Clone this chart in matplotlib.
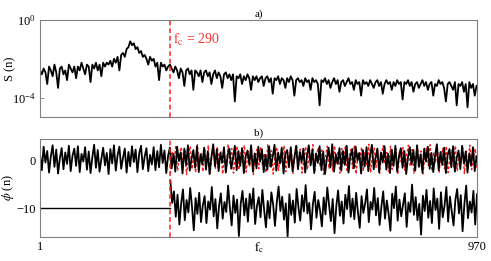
import numpy as np
import matplotlib
matplotlib.use("Agg")
import matplotlib.pyplot as plt
from matplotlib.ticker import FixedLocator, NullLocator, LogFormatterSciNotation

plt.rcParams['font.family'] = ['Liberation Serif', 'DejaVu Serif']
plt.rcParams['mathtext.fontset'] = 'stix'
plt.rcParams['axes.unicode_minus'] = True

# ---------------- data ----------------
fc = 290
n_max = 970

# panel a: log10 S(n) sampled at n = 1, 5, 9, ..., 969
logS_low = [-2.6,-2.8,-2.5,-2.7,-3.3,-2.4,-2.6,-2.9,-2.3,-2.7,-3.5,-2.5,-2.4,-2.8,-2.6,-3.1,-2.3,-2.5,-2.7,-2.4,
            -3.0,-2.4,-2.6,-2.2,-2.5,-2.8,-2.3,-2.4,-3.2,-2.3,-2.5,-2.2,-2.6,-2.3,-2.9,-2.2,-2.4,-2.2]
logS_peak = [-2.3,-2.1,-2.4,-2.0,-2.2,-1.9,-2.6,-1.8,-1.7,-1.9,-1.5,-1.4,
             -1.1,-1.3,-1.2,-1.5,-1.4,-1.7,-1.6,-1.9,-1.8,-2.0,-2.3,-1.9,-2.1,-2.0,-2.4,-2.2,-3.1,-2.2,-2.4,-2.3,-2.6,-2.4,-2.3]
logS_high = [-2.5,-2.7,-2.4,-2.6,-3.0,-2.5,-2.7,-3.4,-2.6,-2.5,
             -2.8,-2.6,-3.6,-2.6,-2.7,-2.9,-2.6,-3.2,-2.7,-2.6,
             -2.9,-2.7,-3.3,-2.8,-2.6,-3.0,-2.7,-2.9,-3.5,-2.8,
             -2.7,-3.0,-2.8,-3.1,-2.8,-4.2,-2.9,-3.0,-2.8,-3.3,
             -2.9,-3.1,-2.8,-3.0,-3.6,-2.9,-3.1,-2.9,-3.2,-3.0,
             -2.9,-3.4,-3.0,-2.9,-3.2,-3.0,-3.8,-3.0,-3.1,-2.9,
             -3.3,-3.0,-3.1,-3.5,-3.0,-3.2,-2.9,-3.1,-3.9,-3.1,
             -3.0,-3.2,-3.1,-3.4,-3.0,-3.2,-3.1,-3.6,-3.0,-3.2,
             -3.1,-3.3,-4.4,-3.1,-3.2,-3.0,-3.3,-3.1,-3.5,-3.2,
             -3.0,-3.3,-3.1,-3.7,-3.2,-3.1,-3.4,-3.2,-3.0,-3.3,
             -3.2,-3.6,-3.1,-3.3,-3.2,-3.9,-3.1,-3.3,-3.2,-3.4,
             -3.1,-3.3,-3.5,-3.2,-3.1,-3.4,-3.2,-3.8,-3.3,-3.1,
             -3.3,-3.2,-3.6,-3.2,-3.4,-3.1,-3.3,-3.2,-4.1,-3.2,
             -3.3,-3.1,-3.4,-3.2,-3.7,-3.3,-3.2,-3.5,-3.3,-3.1,
             -3.4,-3.2,-3.6,-3.3,-3.2,-3.9,-3.3,-3.4,-3.1,-3.3,
             -3.2,-3.5,-4.2,-3.3,-3.2,-3.4,-3.6,-3.2,-4.4,-3.3,
             -3.4,-3.2,-3.7,-3.3,-4.5,-3.2,-3.5,-3.3,-3.9,-3.4]

# panel b: original phase, n = 1, 5, ..., 969
phase_orig = [1.2,-2.1,2.8,-0.5,1.9,-2.6,0.8,3.1,-1.4,2.2,
              -2.8,0.4,2.5,-1.9,1.6,-0.8,3.0,-2.3,0.9,2.4,
              -1.2,2.9,-2.5,1.3,-0.3,2.7,-2.0,1.8,-2.7,0.6,
              3.2,-1.6,2.1,-2.4,0.2,2.6,-1.1,1.5,-2.9,2.3,
              -0.7,3.1,-2.2,1.0,2.8,-1.8,0.5,2.4,-2.6,1.7,
              -1.3,2.9,-0.4,2.2,-2.5,1.4,3.0,-1.9,0.7,2.5,
              -2.3,1.1,-0.9,2.7,-2.1,1.9,-1.5,3.2,-0.6,2.0,
              -2.7,0.9,2.6,-1.7,1.3,-2.4,2.8,-0.2,1.6,-2.8,
              2.4,-1.0,3.1,-2.2,0.3,2.1,-1.6,2.9,-2.5,1.2,
              -0.8,2.6,-2.0,1.8,-2.9,0.6,3.3,-1.3,2.2,-2.3,
              1.5,-0.5,2.7,-2.6,1.0,2.4,-1.8,0.4,3.0,-2.1,
              1.9,-1.2,2.5,-2.7,0.8,2.0,-0.9,3.1,-2.4,1.4,
              -1.7,2.8,-0.3,2.3,-2.5,1.1,-2.0,2.9,-1.4,0.7,
              3.2,-2.2,1.6,-0.7,2.6,-2.8,1.3,2.1,-1.5,2.7,
              -2.3,0.5,3.0,-1.9,1.7,-0.4,2.4,-2.6,0.9,3.1,
              -1.1,2.2,-2.7,1.4,-0.6,2.9,-2.1,1.8,-2.9,0.3,
              2.6,-1.5,3.3,-2.4,1.2,-0.8,2.5,-2.2,1.9,-1.0,
              3.0,-2.6,0.7,2.3,-1.7,2.8,-0.1,1.5,-2.8,2.1,
              -1.3,2.7,-2.3,1.0,3.2,-1.9,0.4,2.4,-2.5,1.6,
              -0.5,2.9,-2.0,1.3,-2.7,2.2,-1.2,3.0,-2.4,0.8,
              2.5,-1.6,1.9,-2.9,0.6,2.7,-0.9,2.1,-2.2,3.1,
              -1.4,1.2,-2.6,2.4,-0.3,2.8,-1.8,1.5,-2.5,0.9,
              3.3,-2.1,1.7,-1.0,2.6,-2.7,1.1,2.3,-1.5,2.9,
              -2.4,0.5,2.0,-1.9,3.0,-0.7,1.8,-2.6,1.4,-1.1,
              2.7,-2.3,0.8]

# panel b: randomized phase (red), n = 290, 294, ..., 970
phase_rand = [-2.9,1.8,-0.6,3.1,-2.2,0.9,2.7,-1.5,2.3,-3.0,
              0.4,2.9,-1.9,1.3,-2.6,3.2,-0.8,1.6,-2.4,2.5,
              -1.2,3.0,-2.8,0.7,2.2,-1.7,2.8,-0.3,1.9,-2.9,
              1.1,-2.3,3.3,-1.0,2.4,-2.7,0.5,2.9,-2.0,1.5,
              -0.4,3.1,-2.5,1.8,-1.4,2.6,-3.0,0.8,2.2,-1.8,
              2.8,-0.9,1.4,-2.6,3.2,-1.3,2.0,-2.9,0.6,2.7,
              -2.1,1.2,-0.5,3.0,-2.4,1.7,-1.1,2.5,-2.8,0.9,
              3.1,-1.6,2.3,-2.7,0.3,2.8,-2.0,1.5,-0.7,3.2,
              -2.5,1.0,2.6,-1.4,2.1,-3.0,0.7,2.9,-1.8,1.3,
              -2.2,3.0,-0.6,1.9,-2.7,2.4,-1.0,2.8,-2.4,0.5,
              2.2,-1.7,3.1,-2.9,1.4,-0.2,2.7,-2.3,1.8,-1.2,
              3.3,-2.6,0.9,2.5,-1.5,2.0,-2.8,1.1,3.0,-0.8,
              1.6,-2.4,2.9,-1.9,0.6,2.3,-3.0,1.7,-0.4,2.6,
              -2.1,1.2,3.1,-1.3,2.2,-2.7,0.8,2.8,-1.6,1.9,
              -2.9,0.4,2.5,-1.1,3.2,-2.3,1.5,-0.6,2.7,-2.5,
              1.0,2.4,-1.8,2.9,-2.6,0.7,2.1,-1.4,3.0,-2.2,
              1.3,-0.9,2.6,-2.8,1.9,-1.5,3.1,-2.0,0.6,2.4,
              -1.7]

# panel b: shifted difference phase (lower black), n = 290, 294, ..., 970
phase_diff = [-4.3,-8.9,-6.5,-11.8,-7.2,-13.4,-9.0,-6.1,-12.5,-8.3,
              -10.9,-5.8,-9.7,-14.6,-7.9,-11.2,-6.8,-12.9,-9.4,-7.5,
              -13.1,-8.6,-10.3,-5.6,-11.7,-8.1,-14.2,-9.5,-6.9,-12.2,
              -8.7,-10.8,-5.3,-9.9,-13.6,-7.4,-11.0,-8.2,-15.8,-9.1,
              -6.4,-11.5,-8.0,-12.8,-7.0,-10.1,-5.9,-13.3,-9.6,-7.7,
              -11.9,-6.2,-10.4,-14.0,-8.5,-12.1,-6.7,-9.3,-13.7,-8.8,
              -5.5,-10.6,-7.6,-12.4,-9.0,-15.9,-7.1,-11.4,-8.4,-13.0,
              -6.0,-9.8,-12.6,-7.3,-10.7,-5.2,-11.1,-8.9,-14.4,-9.2,
              -6.6,-12.0,-8.3,-10.5,-13.8,-7.8,-11.3,-5.7,-9.4,-12.7,
              -8.1,-15.2,-9.6,-6.3,-11.6,-8.6,-13.2,-7.2,-10.2,-5.4,
              -11.8,-8.0,-12.3,-6.8,-10.9,-14.1,-7.5,-11.0,-9.0,-6.1,
              -12.9,-8.7,-10.3,-5.8,-11.5,-7.9,-13.5,-9.7,-6.5,-12.2,
              -8.4,-11.2,-14.7,-7.0,-10.0,-5.5,-12.6,-8.2,-11.7,-9.3,
              -6.9,-13.9,-8.8,-10.8,-5.1,-11.4,-7.7,-12.5,-9.1,-15.5,
              -7.4,-10.6,-6.2,-12.0,-8.5,-13.1,-5.9,-10.4,-8.0,-14.3,
              -6.7,-11.9,-9.5,-5.6,-12.8,-7.6,-10.7,-13.6,-8.3,-6.0,
              -11.1,-7.3,-14.8,-9.2,-5.3,-12.1,-8.6,-10.9,-6.4,-13.4,
              -7.1]
flat_level = -10

x_ticks = [1, n_max]
x_labels = ['1', '970']
x_axis_label = r'$\mathrm{f_c}$'
title_a = 'a)'
title_b = 'b)'
fc_label = r'$\mathrm{f_c}$ = 290'

# ---------------- plot ----------------
logS = np.array(logS_low + logS_peak + logS_high)
n_full = np.arange(1, n_max, 4)
n_after = np.arange(fc, n_max + 1, 4)

fig = plt.figure(figsize=(4.91, 2.61), dpi=100)
ax1 = fig.add_axes([0.0815, 0.5517, 0.890, 0.3717])
ax2 = fig.add_axes([0.0815, 0.0920, 0.890, 0.3755])

frame = '#808080'
fs = 9
lw = 1.3

ax1.plot(n_full, 10.0 ** logS, color='black', lw=lw)
ax1.axvline(fc, color='#ff2020', ls=(0, (3, 2)), lw=1.1)
ax1.set_yscale('log')
ax1.set_ylim(1e-5, 1e0)
ax1.set_xlim(1, n_max)
ax1.yaxis.set_major_locator(FixedLocator([1e-4, 1e0]))
ax1.yaxis.set_minor_locator(NullLocator())
ax1.yaxis.set_major_formatter(LogFormatterSciNotation())
ax1.set_xticks([])
ax1.set_ylabel('S (n)', fontsize=fs)
ax1.yaxis.set_label_coords(-0.054, 0.5)
ax1.set_title(title_a, fontsize=fs - 1, pad=2)
ax1.text(fc + 6, 10 ** -1.05, fc_label, color='#ff3030', fontsize=10, va='center', ha='left')

ax2.plot(n_after, phase_rand, color='#ff1a1a', ls=(0, (2, 1.5)), lw=1.0)
ax2.plot(n_full, phase_orig, color='black', lw=lw)
ax2.plot([1, fc], [flat_level, flat_level], color='black', lw=1.0)
ax2.plot(n_after, phase_diff, color='black', lw=lw)
ax2.axvline(fc, color='#ff2020', ls=(0, (3, 2)), lw=1.1)
ax2.set_xlim(1, n_max)
ax2.set_ylim(-16, 4.4)
ax2.set_yticks([-10, 0])
ax2.set_xticks(x_ticks)
ax2.set_xticklabels(x_labels)
ax2.set_xlabel(x_axis_label, fontsize=fs, labelpad=-9)
ax2.set_ylabel(r'$\phi$ (n)', fontsize=fs)
ax2.yaxis.set_label_coords(-0.054, 0.5)
ax2.set_title(title_b, fontsize=fs - 1, pad=2)

for ax in (ax1, ax2):
    for s in ax.spines.values():
        s.set_color(frame)
        s.set_linewidth(0.8)
    ax.tick_params(direction='in', length=3, width=0.6, color=frame, labelsize=fs, pad=3)

fig.savefig('out.png', dpi=100)
